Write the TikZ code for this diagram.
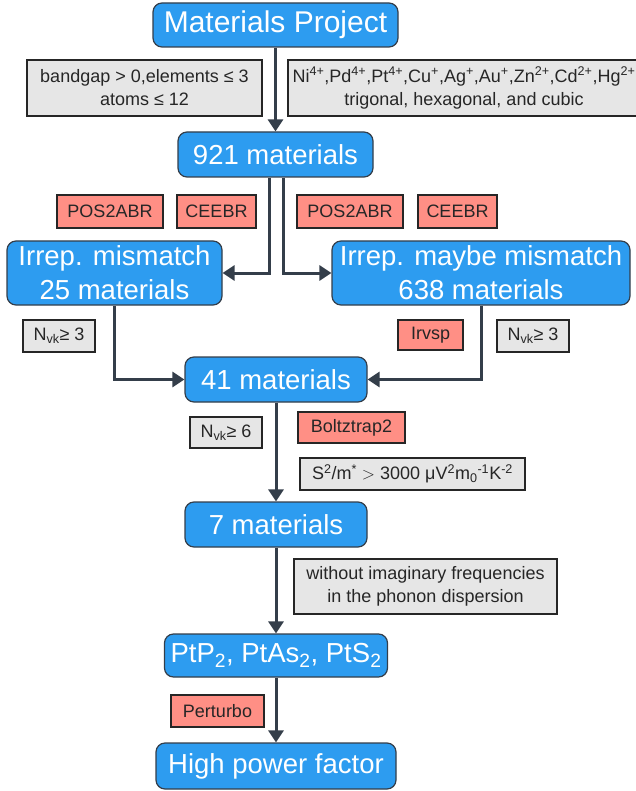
\documentclass[tikz,border=0pt]{standalone}
\usepackage{fontspec}
\setmainfont{Liberation Sans}
\usetikzlibrary{arrows.meta}
\definecolor{boxblue}{RGB}{45,156,240}
\definecolor{edgedark}{RGB}{52,62,74}
\definecolor{condgray}{RGB}{230,230,230}
\definecolor{toolred}{RGB}{255,143,133}
\begin{document}
\begin{tikzpicture}[x=1pt,y=-1pt,
		stage/.style={draw=edgedark,line width=1.2pt,fill=boxblue,rounded corners=9pt,text=white,inner sep=0pt,align=center,font=\fontsize{27.5}{34}\selectfont},
		cond/.style={draw=black!85,line width=1.2pt,fill=condgray,inner sep=0pt,align=center,text=black!85,font=\fontsize{18}{23}\selectfont},
		tool/.style={cond,fill=toolred},
		dims/.style 2 args={minimum width=#1pt,minimum height=#2pt},
		flow/.style={draw=edgedark,line width=3pt,-{Triangle[width=15pt,length=12pt]}}]
	\useasboundingbox (0,0) rectangle (636,791);
	% stages
	\node[stage,dims={245}{44},font=\fontsize{30}{36}\selectfont] (mp) at (275.5,25) {Materials Project};
	\node[stage,dims={195}{45}] (n921) at (275.5,154.5) {921 materials};
	\node[stage,dims={215}{64}] (mis) at (114.5,273) {Irrep. mismatch\\25 materials};
	\node[stage,dims={298}{64}] (maybe) at (481,273) {Irrep. maybe mismatch\\638 materials};
	\node[stage,dims={182}{45}] (m41) at (276,379.5) {41 materials};
	\node[stage,dims={182}{45}] (m7) at (276,524.5) {7 materials};
	\node[stage,dims={223}{43}] (pt) at (276,655.5) {PtP\textsubscript{2}, PtAs\textsubscript{2}, PtS\textsubscript{2}};
	\node[stage,dims={240}{46}] (hpf) at (276,766) {High power factor};
	% conditions and tools
	\node[cond,dims={235}{56}] (bandgap) at (144.5,88) {bandgap > 0,elements ≤ 3\\atoms ≤ 12};
	\node[cond,dims={352}{56}] (ions) at (464,88) {Ni\textsuperscript{4+},Pd\textsuperscript{4+},Pt\textsuperscript{4+},Cu\textsuperscript{+},Ag\textsuperscript{+},Au\textsuperscript{+},Zn\textsuperscript{2+},Cd\textsuperscript{2+},Hg\textsuperscript{2+}\\trigonal, hexagonal, and cubic};
	\node[tool,dims={106}{33}] (posA) at (110,211.5) {POS2ABR};
	\node[tool,dims={79}{33}] (ceebrA) at (216.5,211.5) {CEEBR};
	\node[tool,dims={106}{33}] (posB) at (350,211.5) {POS2ABR};
	\node[tool,dims={79}{33}] (ceebrB) at (457.5,211.5) {CEEBR};
	\node[cond,dims={72}{32}] (nvkA) at (59,336) {N\textsubscript{vk}≥ 3};
	\node[tool,dims={65}{30}] (irvsp) at (430.5,335) {Irvsp};
	\node[cond,dims={72}{32}] (nvkB) at (533,336) {N\textsubscript{vk}≥ 3};
	\node[cond,dims={72}{31}] (nvkC) at (226,432.5) {N\textsubscript{vk}≥ 6};
	\node[tool,dims={107}{31}] (boltz) at (351.5,427.5) {Boltztrap2};
	\node[cond,dims={225}{32}] (pf) at (412.5,474) {S\textsuperscript{2}/m\textsuperscript{*} $>$ 3000 μV\textsuperscript{2}m\textsubscript{0}\textsuperscript{-1}K\textsuperscript{-2}};
	\node[cond,dims={263}{55}] (phonon) at (425.5,586.5) {without imaginary frequencies\\in the phonon dispersion};
	\node[tool,dims={93}{32}] (perturbo) at (217.5,711) {Perturbo};
	% connectors
	\draw[flow] (mp) -- (n921);
	\draw[flow] ([xshift=-6pt]n921.south) |- (mis.east);
	\draw[flow] ([xshift=8pt]n921.south) |- (maybe.west);
	\draw[flow] (mis.south) |- (m41.west);
	\draw[flow] (maybe.south) |- (m41.east);
	\draw[flow] (m41) -- (m7);
	\draw[flow] (m7) -- (pt);
	\draw[flow] (pt) -- (hpf);
\end{tikzpicture}
\end{document}
